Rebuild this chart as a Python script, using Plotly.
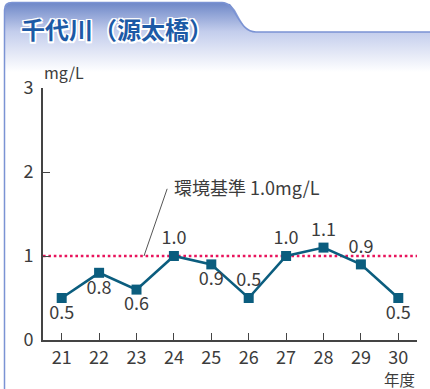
import plotly.graph_objects as go

years = [21, 22, 23, 24, 25, 26, 27, 28, 29, 30]
values = [0.5, 0.8, 0.6, 1.0, 0.9, 0.5, 1.0, 1.1, 0.9, 0.5]
label_pos = ["bottom center", "bottom center", "bottom center", "top center", "bottom center",
             "top center", "top center", "top center", "top center", "bottom center"]
ytick_vals = [0, 1, 2, 3]
standard_value = 1.0
title_text = "千代川（源太橋）"
standard_text = "環境基準 1.0mg/L"
unit_text = "mg/L"
xunit_text = "年度"

W, H = 430, 389
FONT = "Noto Sans CJK JP"
TXT = "#3c3c3c"
LINE = "#0b5d7e"

fig = go.Figure()

# background frame (pixel axes x/y)
fx = [4.5, 4.5, 5.5, 8, 12, 222, 230, 235, 240, 245, 250, 256, 430, 430]
fy = [389, 10, 6, 3.5, 2.5, 2.5, 4, 10, 19, 27, 31, 32, 32, 389]
fig.add_trace(go.Scatter(
    x=fx, y=fy, xaxis="x", yaxis="y", mode="lines", fill="toself",
    line=dict(width=0), hoverinfo="skip", showlegend=False,
    fillgradient=dict(type="vertical", start=2, stop=72,
                      colorscale=[[0, "#6c86c7"], [0.42, "#c3cdec"], [1, "#ffffff"]]),
))
fig.add_shape(type="path", xref="x", yref="y", layer="above",
              path="M 4.5 389 L 4.5 10 Q 4.5 2.5 12 2.5 L 222 2.5 C 236 2.5 238 32 256 32 L 430 32",
              line=dict(color="#7b93d4", width=1.5))

# standard line
fig.add_trace(go.Scatter(
    x=[20.5, 30.5], y=[standard_value, standard_value], xaxis="x2", yaxis="y2",
    mode="lines", line=dict(color="#e8145c", width=2.6, dash="2.6px,2.8px"),
    hoverinfo="skip", showlegend=False,
))
# data
fig.add_trace(go.Scatter(
    x=years, y=values, xaxis="x2", yaxis="y2", mode="lines+markers+text",
    line=dict(color=LINE, width=2.6),
    marker=dict(symbol="square", size=10, color=LINE),
    text=[f"{v:.1f}" for v in values], textposition=label_pos,
    textfont=dict(family=FONT, size=18, color=TXT),
    showlegend=False,
))

# leader line for standard annotation
fig.add_shape(type="line", xref="x2", yref="y2", x0=23.2, y0=1.0, x1=23.82, y1=1.8,
              line=dict(color="#555555", width=1))

x0p, x1p, y0p, y1p = 43, 417, 88, 340
fig.update_layout(
    width=W, height=H, margin=dict(l=0, r=0, t=0, b=0, autoexpand=False),
    paper_bgcolor="white", plot_bgcolor="rgba(0,0,0,0)",
    font=dict(family=FONT, color=TXT),
    xaxis=dict(domain=[0, 1], range=[0, W], visible=False, fixedrange=True, automargin=False),
    yaxis=dict(domain=[0, 1], range=[H, 0], visible=False, fixedrange=True, automargin=False),
    xaxis2=dict(domain=[x0p / W, x1p / W], range=[20.5, 30.5], anchor="y2", automargin=False,
                tickvals=years, ticktext=[str(y) for y in years],
                ticks="inside", ticklen=7, tickcolor="#444", tickwidth=1.2,
                showline=True, linecolor="#444", linewidth=1.8, showgrid=False,
                zeroline=False, tickfont=dict(family=FONT, size=18, color=TXT),
                ticklabelstandoff=0),
    yaxis2=dict(domain=[(H - y1p) / H, (H - y0p) / H], range=[0, 3], anchor="x2", automargin=False,
                tickvals=ytick_vals, ticks="inside", ticklen=7, tickcolor="#444", tickwidth=1.2,
                showline=True, linecolor="#444", linewidth=1.8, showgrid=False,
                zeroline=False, tickfont=dict(family=FONT, size=18, color=TXT),
                ticklabelstandoff=4),
    annotations=[
        dict(text=title_text, xref="x", yref="y", x=19, y=28, xanchor="left", yanchor="middle",
             showarrow=False,
             font=dict(family=FONT, size=24, color="#1c5aa6", weight="bold",
                       shadow="-1.5px -1.5px 0 #fff, 1.5px -1.5px 0 #fff, -1.5px 1.5px 0 #fff, 1.5px 1.5px 0 #fff, 0 1.5px 0 #fff, 0 -1.5px 0 #fff, 1.5px 0 0 #fff, -1.5px 0 0 #fff")),
        dict(text=unit_text, xref="x", yref="y", x=42, y=72, xanchor="left", yanchor="middle",
             showarrow=False, font=dict(family=FONT, size=16, color=TXT)),
        dict(text=xunit_text, xref="x", yref="y", x=399, y=379, xanchor="center", yanchor="middle",
             showarrow=False, font=dict(family=FONT, size=15.5, color=TXT)),
        dict(text=standard_text, xref="x2", yref="y2", x=23.95, y=1.82, xanchor="left",
             yanchor="middle", showarrow=False, font=dict(family=FONT, size=18, color=TXT)),
    ],
)

fig.write_html("out.html")
